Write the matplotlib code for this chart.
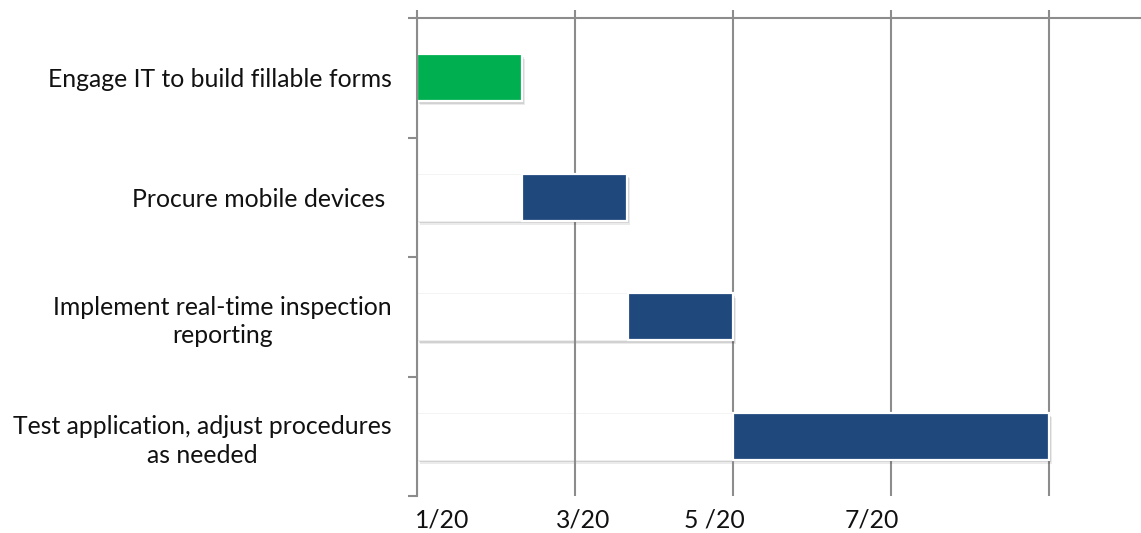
import matplotlib
matplotlib.use("Agg")
import matplotlib.pyplot as plt
import matplotlib.patheffects as pe

# Tasks (top to bottom) and schedule, in months after January 2020
tasks = [
    "Engage IT to build fillable forms",
    "Procure mobile devices ",
    "Implement real-time inspection\nreporting",
    "Test application, adjust procedures\nas needed",
]
start_month = [0.0, 1.33, 2.67, 4.0]
duration_months = [1.33, 1.33, 1.33, 4.0]
bar_colors = ["#00B050", "#1F497D", "#1F497D", "#1F497D"]

# Date labels along the bottom and where they sit on the time axis
date_labels = ["1/20", "3/20", "5 /20", "7/20"]
date_label_x = [0.32, 2.10, 3.77, 5.76]
grid_months = [0, 2, 4, 6, 8]

FONT = "Lato"
FSIZE = 17.8
GRID = "#8c8c8c"

fig = plt.figure(figsize=(11.41, 5.33), dpi=100)
ax = fig.add_axes([417 / 1141, 1 - 496 / 533, 1 - 417 / 1141, (496 - 18) / 533])

shadow = [
    pe.SimplePatchShadow(offset=(0.6, -1.0), shadow_rgbFace="k", alpha=0.11),
    pe.SimplePatchShadow(offset=(1.2, -2.0), shadow_rgbFace="k", alpha=0.11),
    pe.SimplePatchShadow(offset=(1.8, -3.0), shadow_rgbFace="k", alpha=0.08),
    pe.Normal(),
]

ypos = list(range(len(tasks)))
bar_h = 0.39

# Offset segment (white, only its shadow shows)
offset_bars = ax.barh(ypos, start_month, height=bar_h, left=0,
                      color="white", edgecolor="#f2f2f2", linewidth=0.6, zorder=1)
for b in offset_bars:
    b.set_path_effects(shadow)

# Vertical grid lines
for m in grid_months:
    ax.axvline(m, color=GRID, linewidth=1.5, zorder=1.5)

# Task bars
task_bars = ax.barh(ypos, duration_months, height=bar_h, left=start_month,
                    color=bar_colors, edgecolor="white", linewidth=1.6, zorder=3)
for b in task_bars:
    b.set_path_effects(shadow)

ax.set_xlim(0, (1141 - 417) / 79)
ax.set_ylim(len(tasks) - 0.5, -0.5)

# Spines: only left and top
for s in ["right", "bottom"]:
    ax.spines[s].set_visible(False)
for s in ["left", "top"]:
    ax.spines[s].set_color(GRID)
    ax.spines[s].set_linewidth(1.5)
ax.spines["top"].set_zorder(4)
ax.spines["left"].set_zorder(4)

# Category labels on the left, ticks at category boundaries
ax.set_yticks(ypos)
ax.set_yticklabels(tasks, fontfamily=FONT, fontsize=FSIZE, color="#111111",
                   multialignment="center", linespacing=1.3)
ax.tick_params(axis="y", which="major", length=0, pad=18)
ax.set_yticks([i - 0.5 for i in range(len(tasks) + 1)], minor=True)
ax.tick_params(axis="y", which="minor", direction="out", length=6.5,
               width=1.5, color=GRID, left=True)

# Time axis: short marks above the top line, labels placed below the plot
ax.set_xticks(grid_months)
ax.tick_params(axis="x", which="both", bottom=False, labelbottom=False,
               top=True, labeltop=False, direction="out", length=6,
               width=1.5, color=GRID)
for lbl, x in zip(date_labels, date_label_x):
    ax.text(x, -0.05, lbl, transform=ax.get_xaxis_transform(),
            ha="center", va="center", fontfamily=FONT, fontsize=FSIZE,
            color="#111111", clip_on=False)

fig.savefig("out.png", dpi=100, facecolor="white")
